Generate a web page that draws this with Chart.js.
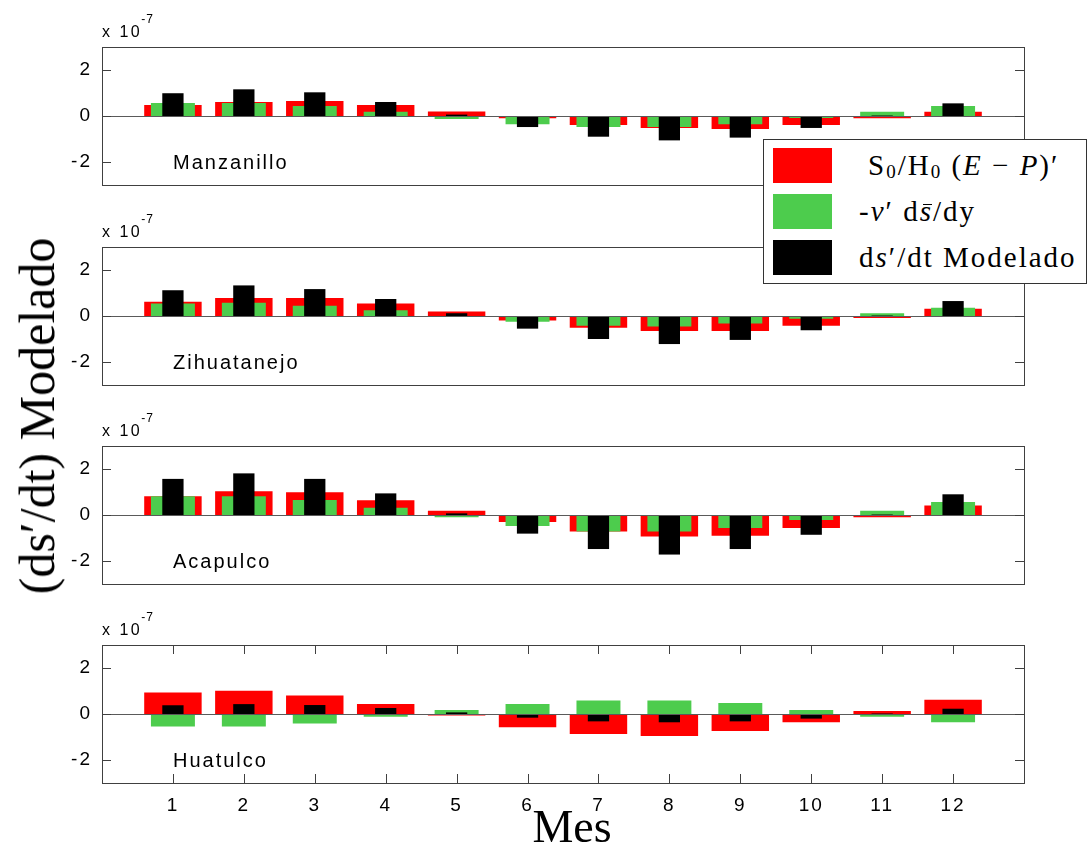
<!DOCTYPE html>
<html>
<head>
<meta charset="utf-8">
<script src="https://cdn.jsdelivr.net/npm/chart.js@4.4.1/dist/chart.umd.min.js"></script>
<style>
  html, body { margin: 0; padding: 0; background: #fff; }
  #page { position: relative; width: 1090px; height: 850px; overflow: hidden; background: #fff; }
  #page canvas { position: absolute; left: 0; }
  .serif { font-family: "Liberation Serif", "Times New Roman", serif; color: #000; position: absolute; white-space: nowrap; }
  #ytitle { font-size: 50px; left: 37px; top: 416px; transform: translate(-50%, -50%) rotate(-90deg); line-height: 56px; }
  #xtitle { font-size: 46px; left: 572px; top: 804px; transform: translateX(-50%); line-height: 46px; }
  #legend { position: absolute; left: 763px; top: 139px; width: 324px; height: 145px; background: #fff;
            border: 1px solid #333; box-sizing: border-box; z-index: 10; }
  .row { position: absolute; left: 9px; height: 36px; display: flex; align-items: center; }
  .sw { width: 59px; height: 35px; }
  .lab { font-family: "Liberation Serif", "Times New Roman", serif; font-size: 29px; letter-spacing: 2px; color: #000; position: absolute; white-space: nowrap; line-height: 36px; }
  .lab sub { font-size: 19px; vertical-align: -3px; line-height: 0; }
  .bar { position: relative; }
  .bar::after { content: ''; position: absolute; left: 0.12em; right: 0.05em; top: 0.3em; border-top: 1.5px solid #000; }
</style>
</head>
<body>
<div id="page">
  <canvas id="c0" width="1090" height="178" style="top:11px"></canvas>
  <canvas id="c1" width="1090" height="178" style="top:211px"></canvas>
  <canvas id="c2" width="1090" height="178" style="top:410px"></canvas>
  <canvas id="c3" width="1090" height="218" style="top:609px"></canvas>

  <div id="ytitle" class="serif">(ds′/dt) Modelado</div>
  <div id="xtitle" class="serif">Mes</div>

  <div id="legend">
    <div class="row" style="top:7px"><div class="sw" id="sw0"></div></div>
    <div class="row" style="top:53px"><div class="sw" id="sw1"></div></div>
    <div class="row" style="top:99px"><div class="sw" id="sw2"></div></div>
    <div class="lab" id="lab0" style="left:104px;top:7px">S<sub>0</sub>/H<sub>0</sub> (<i>E</i> − <i>P</i>)′</div>
    <div class="lab" id="lab1" style="left:95px;top:53px">-<i>v</i>′ d<span class="bar"><i>s</i></span>/dy</div>
    <div class="lab" id="lab2" style="left:95px;top:99px">d<i>s</i>′/dt Modelado</div>
  </div>
</div>

<script>
// Months on the horizontal axis and tick values on the vertical axis
const MONTHS = [1, 2, 3, 4, 5, 6, 7, 8, 9, 10, 11, 12];
const Y_TICKS = [-2, 0, 2];
const EXPONENT = '-7';           // all series are in units of 10^-7

const STATIONS = ['Manzanillo', 'Zihuatanejo', 'Acapulco', 'Huatulco'];
const SERIES_LABELS = ['S0/H0 (E-P)\'', '-v\' ds/dy', 'ds\'/dt Modelado'];

// S0/H0 (E-P)'  (x 10^-7)
const manzanilloEP    = [0.48, 0.61, 0.65, 0.48, 0.20, -0.10, -0.39, -0.52, -0.57, -0.39, -0.10, 0.19];
const zihuatanejoEP   = [0.62, 0.78, 0.78, 0.54, 0.20, -0.20, -0.51, -0.65, -0.65, -0.42, -0.09, 0.32];
const acapulcoEP      = [0.81, 1.03, 0.99, 0.64, 0.19, -0.30, -0.72, -0.94, -0.90, -0.57, -0.10, 0.41];
const huatulcoEP      = [0.93, 1.01, 0.80, 0.43, -0.07, -0.58, -0.87, -0.96, -0.74, -0.36, 0.13, 0.62];

// -v' ds/dy  (x 10^-7)
const manzanilloAdv   = [0.57, 0.57, 0.43, 0.19, -0.13, -0.36, -0.48, -0.48, -0.36, -0.09, 0.19, 0.43];
const zihuatanejoAdv  = [0.54, 0.58, 0.45, 0.25, -0.03, -0.25, -0.42, -0.46, -0.33, -0.12, 0.12, 0.36];
const acapulcoAdv     = [0.81, 0.81, 0.65, 0.32, -0.10, -0.48, -0.72, -0.72, -0.57, -0.22, 0.19, 0.57];
const huatulcoAdv     = [-0.54, -0.54, -0.41, -0.12, 0.17, 0.43, 0.59, 0.59, 0.48, 0.17, -0.12, -0.36];

// ds'/dt modelled  (x 10^-7)
const manzanilloModel  = [0.99, 1.16, 1.03, 0.61, 0.06, -0.48, -0.90, -1.06, -0.94, -0.52, 0.02, 0.55];
const zihuatanejoModel = [1.12, 1.33, 1.17, 0.74, 0.12, -0.55, -1.00, -1.22, -1.04, -0.62, 0.02, 0.65];
const acapulcoModel    = [1.57, 1.81, 1.57, 0.94, 0.07, -0.81, -1.48, -1.72, -1.48, -0.86, 0.02, 0.90];
const huatulcoModel    = [0.38, 0.43, 0.39, 0.26, 0.07, -0.16, -0.32, -0.36, -0.32, -0.20, 0.02, 0.23];

const EP_BY_STATION    = [manzanilloEP, zihuatanejoEP, acapulcoEP, huatulcoEP];
const ADV_BY_STATION   = [manzanilloAdv, zihuatanejoAdv, acapulcoAdv, huatulcoAdv];
const MODEL_BY_STATION = [manzanilloModel, zihuatanejoModel, acapulcoModel, huatulcoModel];

const RED = '#ff0000', GREEN = '#4dcc4d', BLACK = '#000000';
document.getElementById('sw0').style.background = RED;
document.getElementById('sw1').style.background = GREEN;
document.getElementById('sw2').style.background = BLACK;

const SANS = '"Liberation Sans", Arial, sans-serif';

// Axes box, inward ticks, zero baseline, exponent note and station name
const framePlugin = {
  id: 'frame',
  beforeDraw(chart) {
    chart.ctx.letterSpacing = '2px';
  },
  afterDatasetsDraw(chart) {
    const ctx = chart.ctx, a = chart.chartArea;
    const y0 = Math.round(chart.scales.y.getPixelForValue(0)) + 0.5;
    ctx.save();
    ctx.strokeStyle = '#5a5a5a';
    ctx.lineWidth = 1;
    ctx.beginPath();
    ctx.moveTo(a.left, y0);
    ctx.lineTo(a.right, y0);
    ctx.stroke();
    ctx.restore();
  },
  afterDraw(chart, args, opts) {
    const ctx = chart.ctx, a = chart.chartArea;
    const xs = chart.scales.x, ys = chart.scales.y;
    const T = 9;
    ctx.save();
    ctx.strokeStyle = '#404040';
    ctx.lineWidth = 1;
    ctx.strokeRect(Math.round(a.left) + 0.5, Math.round(a.top) + 0.5,
                   Math.round(a.right - a.left), Math.round(a.bottom - a.top));
    ctx.beginPath();
    ys.ticks.forEach(t => {
      const py = Math.round(ys.getPixelForValue(t.value)) + 0.5;
      ctx.moveTo(a.left, py); ctx.lineTo(a.left + T, py);
      ctx.moveTo(a.right, py); ctx.lineTo(a.right - T, py);
    });
    if (opts.showX) {
      xs.ticks.forEach(t => {
        const px = Math.round(xs.getPixelForValue(t.value)) + 0.5;
        ctx.moveTo(px, a.bottom); ctx.lineTo(px, a.bottom - T);
        ctx.moveTo(px, a.top); ctx.lineTo(px, a.top + T);
      });
    }
    ctx.stroke();

    ctx.fillStyle = '#000';
    ctx.textBaseline = 'alphabetic';
    ctx.textAlign = 'left';
    ctx.letterSpacing = '2.5px';
    ctx.font = '16px ' + SANS;
    ctx.fillText('x 10', a.left, a.top - 10);
    const w = ctx.measureText('x 10').width;
    ctx.letterSpacing = '1px';
    ctx.font = '12px ' + SANS;
    ctx.fillText(EXPONENT, a.left + w - 1, a.top - 24);

    ctx.letterSpacing = '2px';
    ctx.font = '20px ' + SANS;
    ctx.fillText(opts.name, a.left + 71, a.top + 122);
    ctx.restore();
  }
};

function makeChart(i) {
  const last = i === STATIONS.length - 1;
  const pts = arr => MONTHS.map((m, k) => ({ x: m, y: arr[k] }));
  const common = { categoryPercentage: 1, grouped: false, borderWidth: 0 };
  return new Chart(document.getElementById('c' + i), {
    type: 'bar',
    data: {
      datasets: [
        Object.assign({ label: SERIES_LABELS[0], data: pts(EP_BY_STATION[i]),    backgroundColor: RED,   barPercentage: 0.81, order: 3 }, common),
        Object.assign({ label: SERIES_LABELS[1], data: pts(ADV_BY_STATION[i]),   backgroundColor: GREEN, barPercentage: 0.62, order: 2 }, common),
        Object.assign({ label: SERIES_LABELS[2], data: pts(MODEL_BY_STATION[i]), backgroundColor: BLACK, barPercentage: 0.30, order: 1 }, common)
      ]
    },
    options: {
      responsive: false,
      animation: false,
      devicePixelRatio: 1,
      layout: { padding: { left: 0, right: 66, top: 36, bottom: 4 } },
      plugins: {
        legend: { display: false },
        tooltip: { enabled: false },
        frame: { name: STATIONS[i], showX: last }
      },
      scales: {
        x: {
          type: 'linear',
          min: 0, max: 13,
          offset: false,
          display: true,
          grid: { display: false, drawTicks: false, offset: false },
          border: { display: false },
          ticks: { display: last, font: { family: SANS, size: 19 }, color: '#000', padding: 11, maxRotation: 0, autoSkip: false },
          afterBuildTicks: s => { s.ticks = MONTHS.map(v => ({ value: v })); },
          afterFit: s => { s.height = last ? 40 : 0; s.paddingLeft = 0; s.paddingRight = 0; }
        },
        y: {
          type: 'linear',
          min: -3, max: 3,
          grid: { display: false, drawTicks: false },
          border: { display: false },
          ticks: { font: { family: SANS, size: 19 }, color: '#000', padding: 10 },
          afterBuildTicks: s => { s.ticks = Y_TICKS.map(v => ({ value: v })); },
          afterFit: s => { s.width = 102; s.paddingTop = 0; s.paddingBottom = 0; }
        }
      }
    },
    plugins: [framePlugin]
  });
}

STATIONS.forEach((_, i) => makeChart(i));
</script>
</body>
</html>
